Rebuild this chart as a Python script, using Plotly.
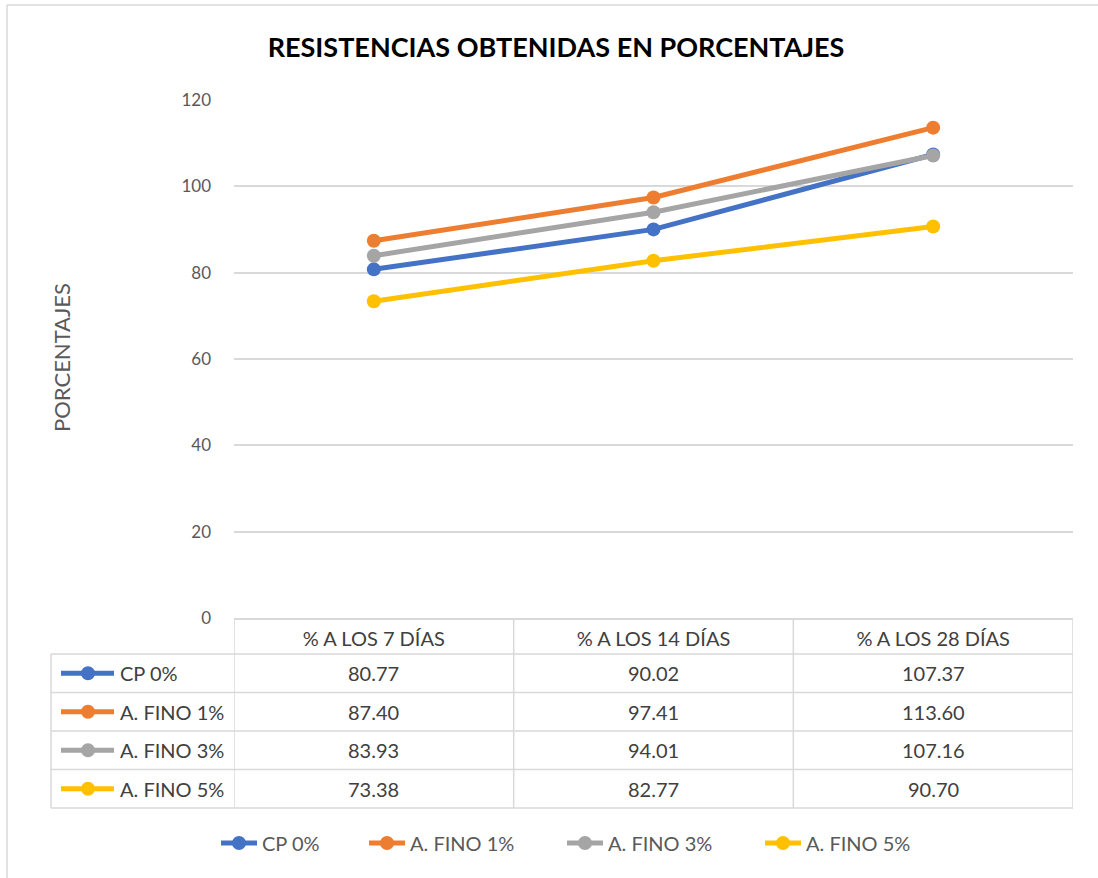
import plotly.graph_objects as go

# ---------------- data ----------------
categories = ["% A LOS 7 DÍAS", "% A LOS 14 DÍAS", "% A LOS 28 DÍAS"]
series_names = ["CP 0%", "A. FINO 1%", "A. FINO 3%", "A. FINO 5%"]
cp_0 = [80.77, 90.02, 107.37]
fino_1 = [87.40, 97.41, 113.60]
fino_3 = [83.93, 94.01, 107.16]
fino_5 = [73.38, 82.77, 90.70]
y_ticks = [0, 20, 40, 60, 80, 100, 120]

series_values = [cp_0, fino_1, fino_3, fino_5]
colors = ["#4472C4", "#ED7D31", "#A5A5A5", "#FFC000"]

W, H = 1098, 878
L, R, T, B = 234, 1073, 100, 618  # plot area in pixels
FONT = "Lato"
GRID = "#D9D9D9"
TXT = "#595959"
TBL = "#404040"


def px_x(px):
    return (px - L) / (R - L)


def px_y(py):
    return (B - py) / (B - T)


legend_ids = ["legend", "legend2", "legend3", "legend4"]
legend_left = [216, 364, 562, 760]

fig = go.Figure()
for name, vals, col, lg in zip(series_names, series_values, colors, legend_ids):
    fig.add_trace(go.Scatter(
        x=categories, y=vals, name=name, mode="lines+markers",
        line=dict(color=col, width=5),
        marker=dict(color=col, size=14),
        legend=lg, showlegend=True,
    ))

shapes = []
annotations = []

# table horizontal lines
row_edges = [654, 692.5, 731, 769.5, 808]
for ry in row_edges:
    shapes.append(dict(type="line", xref="paper", yref="paper",
                       x0=px_x(51), x1=1, y0=px_y(ry), y1=px_y(ry),
                       line=dict(color=GRID, width=1.5)))
# table vertical lines (category boundaries)
for xb in [-0.5, 0.5, 1.5, 2.5]:
    shapes.append(dict(type="line", xref="x", yref="paper",
                       x0=xb, x1=xb, y0=0, y1=px_y(808),
                       line=dict(color=GRID, width=1.5)))
shapes.append(dict(type="line", xref="paper", yref="paper",
                   x0=px_x(51), x1=px_x(51), y0=px_y(654), y1=px_y(808),
                   line=dict(color=GRID, width=1.5)))

# chart frame (left and top edges visible)
shapes.append(dict(type="line", xref="paper", yref="paper",
                   x0=px_x(7), x1=px_x(7), y0=px_y(5), y1=px_y(880),
                   line=dict(color=GRID, width=1.5)))
shapes.append(dict(type="line", xref="paper", yref="paper",
                   x0=px_x(7), x1=px_x(1100), y0=px_y(5), y1=px_y(5),
                   line=dict(color=GRID, width=1.5)))

# table rows: legend keys + values
for i, (name, vals, col) in enumerate(zip(series_names, series_values, colors)):
    cy = (row_edges[i] + row_edges[i + 1]) / 2
    shapes.append(dict(type="line", xref="paper", yref="paper",
                       x0=px_x(61), x1=px_x(114), y0=px_y(cy), y1=px_y(cy),
                       line=dict(color=col, width=5)))
    shapes.append(dict(type="circle", xref="paper", yref="paper",
                       x0=px_x(81), x1=px_x(95), y0=px_y(cy - 7), y1=px_y(cy + 7),
                       fillcolor=col, line=dict(color=col, width=0)))
    annotations.append(dict(xref="paper", yref="paper", x=px_x(118), y=px_y(cy),
                            text=name, showarrow=False, xanchor="left", yanchor="middle",
                            font=dict(family=FONT, size=20, color=TBL)))
    for cat, v in zip(categories, vals):
        annotations.append(dict(xref="x", yref="paper", x=cat, y=px_y(cy),
                                text=f"{v:.2f}", showarrow=False,
                                xanchor="center", yanchor="middle",
                                font=dict(family=FONT, size=20, color=TBL)))

# y axis title
annotations.append(dict(xref="paper", yref="paper", x=px_x(61), y=px_y(358),
                        text="PORCENTAJES", textangle=-90, showarrow=False,
                        xanchor="center", yanchor="middle",
                        font=dict(family=FONT, size=22, color=TXT)))

layout_legends = {}
for lg, left in zip(legend_ids, legend_left):
    layout_legends[lg] = dict(
        orientation="h", xref="container", yref="container",
        x=left / W, xanchor="left", y=1 - 843 / H, yanchor="middle",
        font=dict(family=FONT, size=20, color=TXT),
        itemwidth=36, bgcolor="rgba(0,0,0,0)", borderwidth=0,
    )

fig.update_layout(
    width=W, height=H,
    showlegend=True,
    margin=dict(l=L, r=W - R, t=T, b=H - B),
    paper_bgcolor="white", plot_bgcolor="white",
    title=dict(text="<b>RESISTENCIAS OBTENIDAS EN PORCENTAJES</b>",
               x=556 / W, xanchor="center", y=1 - 48 / H, yanchor="middle",
               font=dict(family=FONT, size=27, color="black")),
    xaxis=dict(type="category", range=[-0.5, 2.5], showgrid=False,
               showline=True, linecolor=GRID, linewidth=1.5,
               ticks="", tickfont=dict(family=FONT, size=20, color=TBL),
               ticklabelstandoff=2),
    yaxis=dict(range=[0, 120], tickvals=y_ticks, showgrid=True, gridcolor=GRID,
               gridwidth=1.5, zeroline=False, showline=False, ticks="",
               tickfont=dict(family=FONT, size=17, color=TXT),
               ticklabelstandoff=22),
    shapes=shapes, annotations=annotations,
    **layout_legends,
)

fig.write_html("out.html", config={"displayModeBar": False},
               post_script="document.body.style.margin='0px';")
